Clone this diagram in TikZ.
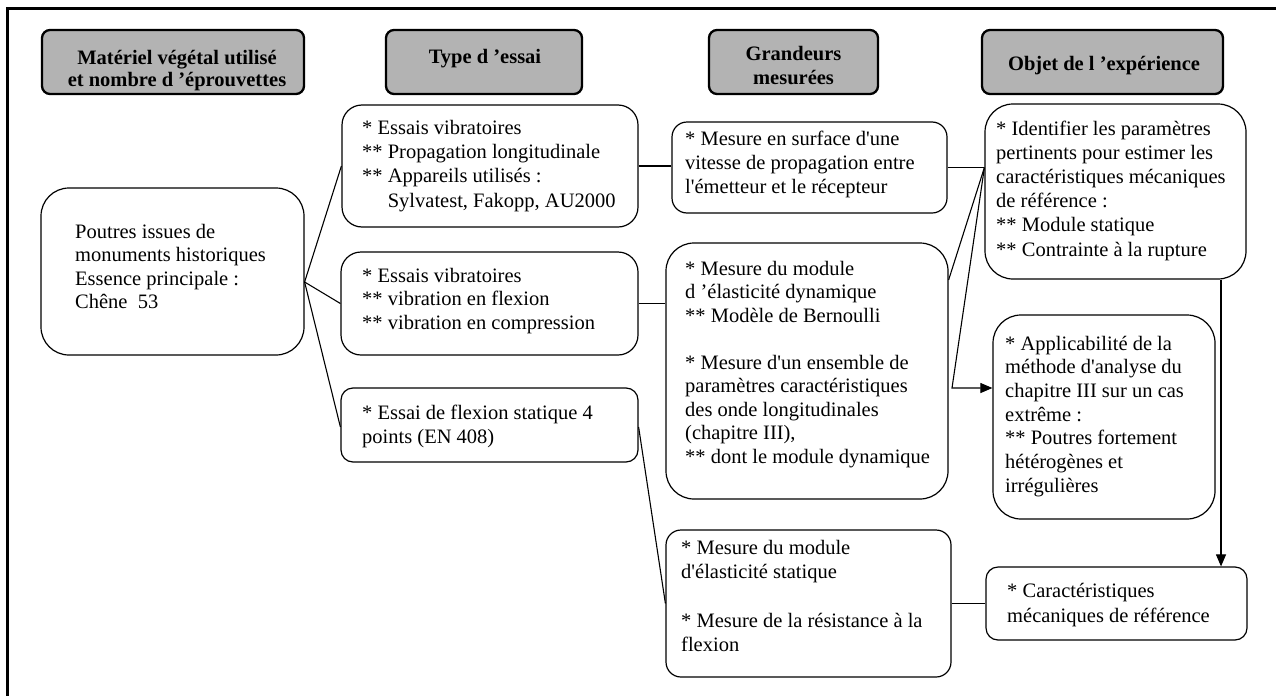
\documentclass[tikz,border=0pt]{standalone}
\usepackage{fontspec}
\setmainfont{Liberation Serif}[Ligatures=TeXOff]
\usetikzlibrary{arrows.meta}
\definecolor{hdrgray}{HTML}{B3B3B3}
\tikzset{
  hdr/.style={draw, line width=2.3pt, fill=hdrgray, rounded corners=8pt, inner sep=0pt},
  bx/.style={draw, line width=1.2pt, rounded corners=#1, inner sep=0pt},
  bx/.default=15pt,
  txt/.style={inner sep=0pt, anchor=north west, align=left, font=\fontsize{20.5}{#1}\selectfont},
  txt/.default=24,
  htxt/.style={inner sep=0pt, anchor=north, align=center, font=\bfseries\fontsize{20.5}{#1}\selectfont},
  htxt/.default=22,
  ln/.style={line width=1.1pt},
  arr/.style={line width=1.1pt, -{Triangle[length=12pt,width=10pt]}}
}
\begin{document}
\begin{tikzpicture}[x=1pt,y=-1pt]
\useasboundingbox (0,0) rectangle (1276,696);
% frame (top and left edges visible)
\draw[line width=3pt, line join=miter] (1276,8.5) -- (7,8.5) -- (7,696);

% headers
\node[hdr, minimum width=262pt, minimum height=64pt] (h1) at (173,62) {};
\node[htxt=22] (h1t) at (177,48.5) {\strut Matériel végétal utilisé\\et nombre d ’éprouvettes};
\node[hdr, minimum width=196pt, minimum height=64pt] (h2) at (484,62) {};
\node[htxt] (h2t) at (485,47.5) {\strut Type d ’essai};
\node[hdr, minimum width=169pt, minimum height=64pt] (h3) at (793.5,62) {};
\node[htxt=24] (h3t) at (793.5,43.5) {\strut Grandeurs\\mesurées};
\node[hdr, minimum width=241pt, minimum height=64pt] (h4) at (1102.5,62) {};
\node[htxt] (h4t) at (1104,55) {\strut Objet de l ’expérience};

% boxes
\node[bx=28pt, minimum width=263pt, minimum height=167pt] (lb) at (172.5,271.5) {};
\node[bx=20pt, minimum width=296pt, minimum height=122pt] (t1) at (490,166) {};
\node[bx=20pt, minimum width=297pt, minimum height=103pt] (t2) at (489.5,303.5) {};
\node[bx=12pt, minimum width=297pt, minimum height=74pt] (t3) at (489.5,425) {};
\node[bx=15pt, minimum width=275pt, minimum height=91pt] (g1) at (809.5,167.5) {};
\node[bx=28pt, minimum width=282pt, minimum height=256pt] (g2) at (807,371) {};
\node[bx=15pt, minimum width=285pt, minimum height=147pt] (g3) at (808.5,603.5) {};
\node[bx=28pt, minimum width=261pt, minimum height=175pt] (o1) at (1115.5,191.5) {};
\node[bx=28pt, minimum width=222pt, minimum height=204pt] (o2) at (1104,417) {};
\node[bx=12pt, minimum width=261pt, minimum height=73pt] (o3) at (1116.5,603.5) {};

% texts
\node[txt=23.5] (lbt) at (75,221.5) {\strut Poutres issues de\\monuments historiques\\Essence principale :\\Chêne\ \ 53};
\node[txt=24.3] (t1t) at (362,117) {\strut * Essais vibratoires\\** Propagation longitudinale\\** Appareils utilisés :\\\hspace*{25.6pt}Sylvatest, Fakopp, AU2000};
\node[txt=23.5] (t2t) at (362,265.5) {\strut * Essais vibratoires\\** vibration en flexion\\** vibration en compression};
\node[txt=24] (t3t) at (362,402.2) {\strut * Essai de flexion statique 4\\points (EN 408)};
\node[txt=24] (g1t) at (685,128.2) {\strut * Mesure en surface d'une\\vitesse de propagation entre\\l'émetteur et le récepteur};
\node[txt=23.5] (g2t) at (685,258.5) {\strut * Mesure du module\\d ’élasticité dynamique\\** Modèle de Bernoulli\\[23.5pt]* Mesure d'un ensemble de\\paramètres caractéristiques\\des onde longitudinales\\(chapitre III),\\** dont le module dynamique};
\node[txt=24.3] (g3t) at (681,537) {\strut * Mesure du module\\d'élasticité statique\\[24.3pt]* Mesure de la résistance à la\\flexion};
\node[txt=24.2] (o1t) at (996,118) {\strut * Identifier les paramètres\\pertinents pour estimer les\\caractéristiques mécaniques\\de référence :\\** Module statique\\** Contrainte à la rupture};
\node[txt=23.7] (o2t) at (1005,333.4) {\strut * Applicabilité de la\\méthode d'analyse du\\chapitre III sur un cas\\extrême :\\** Poutres fortement\\hétérogènes et\\irrégulières};
\node[txt=25] (o3t) at (1007,579.5) {\strut * Caractéristiques\\mécaniques de référence};

% connectors
\coordinate (lbo) at ([yshift=-10.5pt]lb.east);
\draw[ln] (lbo) -- (t1.west);
\draw[ln] (lbo) -- (t2.west);
\draw[ln] (lbo) -- ([yshift=-2pt]t3.west);
\draw[ln] (t1.east) -- (t1.east -| g1.west);
\draw[ln] (t2.east) -- (t2.east -| g2.west);
\draw[ln] ([yshift=-2pt]t3.east) -- (g3.west);
\coordinate (j) at (g1.east -| o1.west);
\draw[ln] (g1.east) -- (j);
\draw[ln] ([yshift=91pt]g2.east) -- (j);
\coordinate (k) at (952,388);
\draw[arr] (j) -- (k) -- (k -| o2.west);
\coordinate (v) at (1221,0);
\draw[arr] (v |- o1.south) -- (v |- o3.north);
\draw[ln] (g3.east) -- (o3.west);
\end{tikzpicture}
\end{document}
